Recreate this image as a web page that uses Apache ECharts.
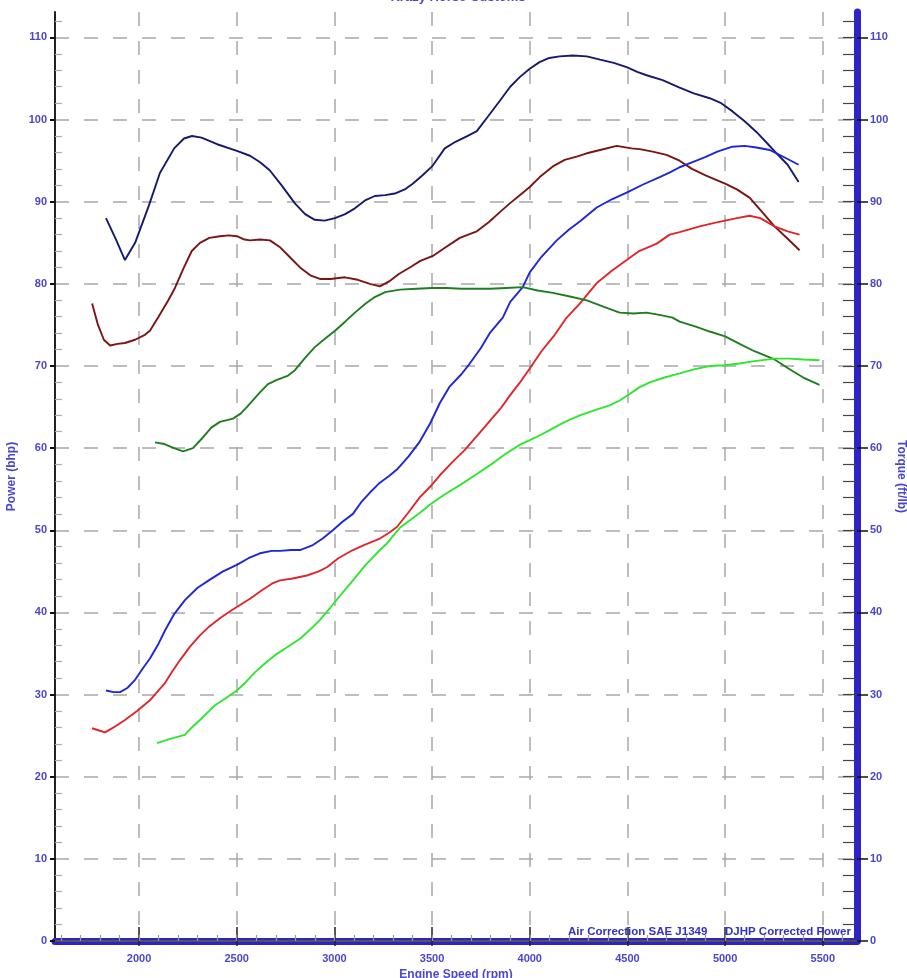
<!DOCTYPE html>
<html>
<head>
<meta charset="utf-8">
<script src="https://cdn.jsdelivr.net/npm/echarts@6/dist/echarts.min.js"></script>
<style>
html,body{margin:0;padding:0;background:#fff;}
#chart{width:907px;height:978px;}
</style>
</head>
<body>
<div id="chart"></div>
<script>
// ---------- data ----------
const rpmTicks = [2000, 2500, 3000, 3500, 4000, 4500, 5000, 5500];
const valueTicks = [0, 10, 20, 30, 40, 50, 60, 70, 80, 90, 100, 110];

// dark navy curve
const navyRpm = [1831,1880,1928,1980,2050,2107,2180,2230,2271,2320,2400,2501,2568,2620,2670,2730,2798,2850,2900,2950,3003,3055,3105,3160,3207,3260,3309,3360,3401,3450,3500,3565,3620,3680,3729,3790,3847,3900,3950,4000,4050,4100,4153,4220,4292,4360,4430,4496,4550,4598,4680,4767,4840,4921,4980,5038,5100,5160,5220,5263,5320,5376];
const navyVal = [88.0,85.5,82.9,85.0,89.5,93.5,96.5,97.7,98.0,97.8,97.0,96.2,95.6,94.8,93.8,92.0,89.8,88.5,87.8,87.7,88.0,88.5,89.2,90.2,90.7,90.8,91.0,91.5,92.2,93.2,94.3,96.5,97.3,98.0,98.6,100.5,102.3,104.0,105.2,106.2,107.0,107.5,107.7,107.8,107.7,107.3,106.9,106.4,105.8,105.4,104.8,103.9,103.2,102.6,102.0,101.0,99.8,98.5,97.0,95.9,94.5,92.4];

// dark red curve
const maroonRpm = [1760,1790,1820,1852,1890,1928,1980,2030,2056,2100,2150,2184,2230,2270,2312,2360,2414,2460,2501,2540,2568,2620,2670,2720,2770,2824,2880,2926,2980,3054,3120,3182,3233,3280,3330,3386,3440,3504,3560,3642,3729,3790,3850,3898,3949,4000,4051,4118,4179,4240,4292,4360,4445,4520,4563,4629,4700,4767,4830,4900,4960,5000,5060,5125,5180,5253,5320,5381];
const maroonVal = [77.6,75.0,73.2,72.5,72.7,72.8,73.2,73.8,74.3,76.0,78.0,79.5,82.0,84.0,85.0,85.6,85.8,85.9,85.8,85.4,85.3,85.4,85.3,84.5,83.3,82.0,81.0,80.6,80.6,80.8,80.5,80.0,79.7,80.3,81.2,82.0,82.8,83.4,84.3,85.6,86.4,87.5,88.8,89.8,90.8,91.8,93.0,94.3,95.1,95.5,95.9,96.3,96.8,96.5,96.4,96.1,95.7,95.0,94.0,93.2,92.6,92.2,91.5,90.5,89.0,87.0,85.5,84.1];

// blue curve
const blueRpm = [1831,1870,1903,1940,1980,2020,2056,2100,2133,2180,2235,2300,2363,2430,2501,2560,2619,2680,2721,2780,2824,2890,2940,2992,3040,3095,3140,3182,3233,3280,3320,3380,3437,3490,3540,3590,3650,3693,3750,3795,3862,3900,3964,4000,4060,4138,4200,4256,4343,4420,4496,4580,4665,4720,4767,4830,4895,4960,5038,5100,5160,5228,5263,5320,5376];
const blueVal = [30.5,30.3,30.3,30.8,31.8,33.2,34.4,36.2,37.8,39.8,41.5,43.0,44.0,45.0,45.8,46.6,47.2,47.5,47.5,47.6,47.6,48.2,49.0,50.0,51.0,52.0,53.5,54.6,55.8,56.6,57.4,59.0,60.8,63.0,65.5,67.5,69.0,70.3,72.2,74.0,75.9,77.8,79.6,81.4,83.3,85.3,86.6,87.6,89.3,90.3,91.1,92.1,93.0,93.6,94.2,94.8,95.4,96.1,96.7,96.8,96.6,96.3,95.9,95.2,94.5];

// red curve
const redRpm = [1760,1800,1826,1870,1928,1990,2056,2100,2133,2170,2210,2260,2312,2360,2414,2470,2517,2570,2629,2680,2721,2780,2859,2920,2962,3020,3095,3160,3233,3280,3320,3380,3437,3490,3540,3600,3668,3730,3795,3850,3898,3950,4000,4060,4128,4189,4256,4343,4420,4496,4560,4650,4716,4767,4870,4940,5000,5060,5125,5180,5253,5320,5381];
const redVal = [25.9,25.6,25.4,26.0,26.9,28.0,29.3,30.5,31.4,32.8,34.2,35.8,37.2,38.3,39.3,40.2,40.9,41.7,42.7,43.5,43.9,44.1,44.5,45.0,45.5,46.6,47.6,48.3,49.0,49.7,50.4,52.2,54.0,55.3,56.7,58.2,59.8,61.5,63.3,64.8,66.4,68.0,69.7,71.8,73.8,75.9,77.6,80.1,81.6,82.9,84.0,84.9,86.0,86.3,87.0,87.4,87.7,88.0,88.3,88.0,87.0,86.4,86.0];

// dark green curve
const greenRpm = [2082,2130,2180,2225,2276,2327,2370,2414,2481,2520,2552,2619,2660,2706,2760,2798,2850,2900,2950,3003,3055,3105,3160,3207,3260,3335,3420,3500,3575,3650,3730,3800,3880,3964,4040,4118,4200,4292,4380,4460,4530,4598,4670,4731,4767,4850,4921,5000,5074,5150,5253,5330,5400,5483];
const greenVal = [60.7,60.5,60.0,59.6,60.0,61.3,62.5,63.2,63.6,64.2,65.0,66.8,67.8,68.3,68.8,69.5,71.0,72.3,73.3,74.3,75.4,76.5,77.6,78.4,79.0,79.3,79.4,79.5,79.5,79.4,79.4,79.4,79.5,79.6,79.2,78.9,78.5,78.0,77.2,76.5,76.4,76.5,76.2,75.9,75.4,74.8,74.2,73.6,72.7,71.8,70.8,69.6,68.6,67.7];

// light green curve
const limeRpm = [2092,2159,2235,2270,2312,2350,2389,2440,2501,2550,2593,2650,2696,2760,2824,2880,2926,2980,3028,3095,3160,3233,3269,3335,3437,3488,3560,3642,3720,3795,3870,3949,4030,4102,4180,4256,4330,4409,4460,4512,4560,4614,4690,4767,4840,4921,5000,5074,5150,5253,5330,5400,5483];
const limeVal = [24.1,24.6,25.1,26.0,26.9,27.8,28.7,29.5,30.5,31.6,32.7,33.9,34.8,35.8,36.8,38.0,39.1,40.6,42.0,43.9,45.8,47.6,48.4,50.3,52.1,53.1,54.3,55.5,56.7,57.9,59.2,60.4,61.3,62.2,63.2,64.0,64.6,65.2,65.8,66.6,67.4,68.0,68.6,69.1,69.6,70.0,70.1,70.3,70.6,70.9,70.9,70.8,70.7];

// ---------- helpers ----------
function pairs(xs, ys) { return xs.map((x, i) => [x, ys[i]]); }
const rpmMinor = [];
for (let r = 1600; r <= 5600; r += 100) rpmMinor.push(r);
const valMinorLeft = [];
for (let v = 2; v <= 112; v += 2) if (v % 10 !== 0) valMinorLeft.push(v);
const valMinorRight = [];
for (let v = 0; v <= 112; v += 2) valMinorRight.push(v);

const LABEL = '#4a46d0';
const BLUEBAR = '#2e22c8';
const FONT = '"Liberation Sans", Arial, sans-serif';
const X_MIN = 1570, X_MAX = 5675, Y_MAX = 113.1;

const labelStyle = { color: LABEL, fontWeight: 'bold', fontSize: 11, fontFamily: FONT, formatter: (v) => String(v) };
const nameStyle = { color: LABEL, fontWeight: 'bold', fontSize: 12, fontFamily: FONT };

const chart = echarts.init(document.getElementById('chart'), null, { renderer: 'canvas' });

function line(name, xs, ys, color) {
  return {
    name: name, type: 'line', xAxisIndex: 0, yAxisIndex: 0,
    data: pairs(xs, ys), showSymbol: false, symbol: 'none',
    lineStyle: { color: color, width: 1.9 }, z: 5, animation: false
  };
}

const option = {
  animation: false,
  backgroundColor: '#ffffff',
  grid: { left: 55, right: 50, top: 12, bottom: 37, outerBoundsMode: 'none', containLabel: false },
  xAxis: [
    { // main: data scale, dashed verticals, major ticks
      type: 'value', min: X_MIN, max: X_MAX, position: 'bottom', offset: 0,
      axisLine: { show: false },
      axisTick: { show: true, inside: true, length: 14, customValues: rpmTicks, lineStyle: { color: '#222', width: 1.5 } },
      axisLabel: { show: false },
      splitLine: { show: true, lineStyle: { color: '#a8a8a8', width: 1.5, type: [14, 15] } }
    },
    { // blue bar + labels
      type: 'value', min: X_MIN, max: X_MAX, position: 'bottom', offset: 4,
      axisLine: { show: true, lineStyle: { color: BLUEBAR, width: 7 } },
      axisTick: { show: true, inside: false, length: 5, customValues: rpmTicks, lineStyle: { color: '#222', width: 1.5 } },
      axisLabel: Object.assign({ show: true, margin: 8, customValues: rpmTicks }, labelStyle),
      splitLine: { show: false },
      name: 'Engine Speed (rpm)', nameLocation: 'middle', nameGap: 17,
      nameTextStyle: nameStyle
    },
    { // minor ticks
      type: 'value', min: X_MIN, max: X_MAX, position: 'bottom', offset: 0,
      axisLine: { show: false },
      axisTick: { show: true, inside: true, length: 6, customValues: rpmMinor, lineStyle: { color: '#999', width: 1.2 } },
      axisLabel: { show: false }, splitLine: { show: false }
    },
    { // top border
      type: 'value', min: X_MIN, max: X_MAX, position: 'top',
      axisLine: { show: true, lineStyle: { color: '#555', width: 2 } },
      axisTick: { show: false }, axisLabel: { show: false }, splitLine: { show: false }
    }
  ],
  yAxis: [
    { // left main
      type: 'value', min: 0, max: Y_MAX, position: 'left', offset: 0,
      axisLine: { show: true, lineStyle: { color: '#222', width: 2 } },
      axisTick: { show: true, inside: false, length: 5, customValues: valueTicks, lineStyle: { color: '#111', width: 2 } },
      axisLabel: Object.assign({ show: true, margin: 8, customValues: valueTicks }, labelStyle),
      splitLine: { show: true, lineStyle: { color: '#a8a8a8', width: 1.5, type: [14, 15] } },
      name: 'Power (bhp)', nameLocation: 'middle', nameGap: 32,
      nameTextStyle: nameStyle
    },
    { // left minor ticks
      type: 'value', min: 0, max: Y_MAX, position: 'left', offset: 0,
      axisLine: { show: false },
      axisTick: { show: true, inside: true, length: 7, customValues: valMinorLeft, lineStyle: { color: '#aaa', width: 1.2 } },
      axisLabel: { show: false }, splitLine: { show: false }
    },
    { // right main
      type: 'value', min: 0, max: Y_MAX, position: 'right', offset: 0,
      axisLine: { show: true, lineStyle: { color: BLUEBAR, width: 7 } },
      axisTick: { show: true, inside: false, length: 11, customValues: valueTicks, lineStyle: { color: '#111', width: 1.5 } },
      axisLabel: Object.assign({ show: true, margin: 13, customValues: valueTicks }, labelStyle),
      splitLine: { show: false },
      name: 'Torque (ft/lb)', nameLocation: 'middle', nameGap: 38, nameRotate: -90, nameMoveOverlap: false,
      nameTextStyle: nameStyle
    },
    { // right inside ticks
      type: 'value', min: 0, max: Y_MAX, position: 'right', offset: 0,
      axisLine: { show: false },
      axisTick: { show: true, inside: true, length: 14, customValues: valMinorRight, lineStyle: { color: '#444', width: 1.2 } },
      axisLabel: { show: false }, splitLine: { show: false }
    }
  ],
  series: [
    line('Torque (corrected)', navyRpm, navyVal, '#17196e'),
    line('Torque', maroonRpm, maroonVal, '#7a1512'),
    line('Power (corrected)', blueRpm, blueVal, '#1e26d6'),
    line('Power', redRpm, redVal, '#e0262a'),
    line('Torque B', greenRpm, greenVal, '#1f7d1f'),
    line('Power B', limeRpm, limeVal, '#2fe62f')
  ],
  graphic: [
    { type: 'text', x: 458, y: 4, z: 10, style: { text: 'Krazy Horse Customs', fill: '#5a3fd0', font: 'bold 13px ' + FONT, textAlign: 'center', textVerticalAlign: 'bottom' } },
    { type: 'text', x: 568, y: 932, z: 10, style: { text: 'Air Correction SAE J1349', fill: '#3232c8', font: 'bold 11.5px ' + FONT, textAlign: 'left', textVerticalAlign: 'middle' } },
    { type: 'text', x: 725, y: 932, z: 10, style: { text: 'DJHP Corrected Power', fill: '#3232c8', font: 'bold 11.5px ' + FONT, textAlign: 'left', textVerticalAlign: 'middle' } }
  ]
};
chart.setOption(option);
</script>
</body>
</html>
